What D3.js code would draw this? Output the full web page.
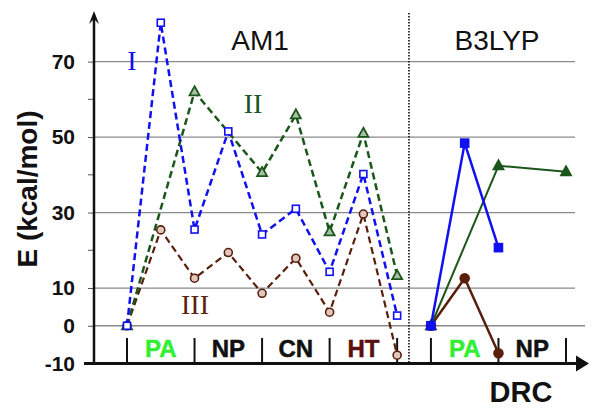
<!DOCTYPE html>
<html>
<head>
<meta charset="utf-8">
<script src="https://cdn.jsdelivr.net/npm/d3@7"></script>
<style>
  body { margin: 0; background: #fff; }
  svg { display: block; font-family: Arial, 'Liberation Sans', sans-serif; }
</style>
</head>
<body>
<div class="chart-container"></div>
<script>
// Data: x is the step index along the DRC path
const am1Steps = [0, 1, 2, 3, 4, 5, 6, 7, 8];
const am1I   = [0, 80.3, 25.5, 51.5, 24.2, 31.0, 14.3, 40.2, 2.7];
const am1II  = [0, null, 62.0, null, 40.6, 55.9, 24.9, 51.0, 13.3];
const am1III = [0, 25.4, 12.6, 19.4, 8.6, 17.9, 3.6, 29.6, -7.8];

const b3lypSteps = [9, 10, 11, 13];
const b3lypI   = [0, 48.4, 20.7, null];
const b3lypII  = [0, null, 42.4, 40.8];
const b3lypIII = [0, 12.6, -7.3, null];

const yTickLabels = [70, 50, 30, 10, 0, -10];
const yMinorTicks = [60, 40, 20];
const gridValues = [70, 50, 30, 10, 0];

const am1Cats = ['PA', 'NP', 'CN', 'HT'];
const am1CatPos = [1, 3, 5, 7];
const b3lypCats = ['PA', 'NP'];
const b3lypCatPos = [10, 12];
const catTicks = [0, 2, 4, 6, 8, 9, 11, 13];
const separatorAt = 8.35;

const blue = '#1010f0', green = '#1b571b', brown = '#5a1e0c';
const catColor = { PA: '#33ee33', HT: '#5a1010' };

const W = 600, H = 415;
const svg = d3.select('.chart-container').append('svg')
  .attr('width', W).attr('height', H);

// Scales
const x = d3.scaleLinear().domain([0, 13]).range([127, 566]);
const y = d3.scaleLinear().domain([-10, 70]).range([363.5, 61.6]);
const axisX = 94;

// Gridlines
svg.append('g').selectAll('line').data(gridValues).join('line')
  .attr('x1', axisX).attr('x2', d => d === 0 ? 585 : 575)
  .attr('y1', d => y(d)).attr('y2', d => y(d))
  .attr('stroke', '#8a8a8a').attr('stroke-width', 1.3);

// Separator
svg.append('line')
  .attr('x1', x(separatorAt)).attr('x2', x(separatorAt))
  .attr('y1', 13).attr('y2', y(-10))
  .attr('stroke', '#111').attr('stroke-width', 1.6)
  .attr('stroke-dasharray', '1.5,1.5');

// Y axis
const yAxis = d3.axisLeft(y).tickValues(yTickLabels).tickSize(6).tickPadding(13)
  .tickFormat(d => String(d));
const yAxisDraw = svg.append('g').attr('transform', `translate(${axisX},0)`).call(yAxis);
yAxisDraw.select('.domain').remove();
yAxisDraw.selectAll('.tick line').attr('stroke', '#555');
yAxisDraw.selectAll('text').attr('font-size', 21).attr('font-weight', 'bold')
  .attr('fill', '#111').attr('font-family', 'Arial, Liberation Sans, sans-serif');
svg.append('g').selectAll('line').data(yMinorTicks).join('line')
  .attr('x1', axisX - 6).attr('x2', axisX)
  .attr('y1', d => y(d)).attr('y2', d => y(d))
  .attr('stroke', '#555');

svg.append('line').attr('x1', axisX).attr('x2', axisX)
  .attr('y1', 18).attr('y2', y(-10) + 1.5)
  .attr('stroke', '#111').attr('stroke-width', 2.5);
svg.append('path').attr('d', `M${axisX - 5},24 L${axisX},11 L${axisX + 5},24 L${axisX},19 Z`)
  .attr('fill', '#111');

// X axis with arrow
svg.append('line').attr('x1', axisX - 10).attr('x2', 580)
  .attr('y1', y(-10)).attr('y2', y(-10))
  .attr('stroke', '#111').attr('stroke-width', 3);
svg.append('path').attr('d', `M576,${y(-10) - 8} L589,${y(-10)} L576,${y(-10) + 8} Z`)
  .attr('fill', '#111');

// Category ticks and labels
svg.append('g').selectAll('line').data(catTicks).join('line')
  .attr('x1', d => x(d)).attr('x2', d => x(d))
  .attr('y1', 338).attr('y2', y(-10))
  .attr('stroke', '#111').attr('stroke-width', 2);

const catLabels = am1Cats.map((c, i) => ({ c, p: am1CatPos[i] }))
  .concat(b3lypCats.map((c, i) => ({ c, p: b3lypCatPos[i] })));
svg.append('g').selectAll('text').data(catLabels).join('text')
  .attr('x', d => x(d.p)).attr('y', 357)
  .attr('text-anchor', 'middle').attr('font-size', 24).attr('font-weight', 'bold')
  .attr('fill', d => catColor[d.c] || '#111')
  .attr('stroke', d => catColor[d.c] || '#111').attr('stroke-width', 0.5)
  .text(d => d.c);

// Lines
const line = d3.line().x(d => x(d.s)).y(d => y(d.v));
function pts(steps, vals) {
  return steps.map((s, i) => ({ s, v: vals[i] })).filter(d => d.v !== null);
}

function drawSeries(steps, vals, color, opts) {
  const data = pts(steps, vals);
  svg.append('path').datum(data)
    .attr('d', line).attr('fill', 'none')
    .attr('stroke', color).attr('stroke-width', opts.width)
    .attr('stroke-dasharray', opts.dash || null);
  const fill = opts.filled ? color : '#fff';
  const g = svg.append('g');
  if (opts.marker === 'square') {
    const s = opts.filled ? 8 : 7;
    g.selectAll('rect').data(data).join('rect')
      .attr('x', d => x(d.s) - s / 2).attr('y', d => y(d.v) - s / 2)
      .attr('width', s).attr('height', s)
      .attr('fill', fill).attr('stroke', color).attr('stroke-width', 1.6);
  } else if (opts.marker === 'triangle') {
    g.selectAll('path').data(data).join('path')
      .attr('d', d => { const cx = x(d.s), cy = y(d.v); return `M${cx},${cy - 5.5} L${cx + 5},${cy + 3.5} L${cx - 5},${cy + 3.5} Z`; })
      .attr('fill', opts.filled ? color : '#a8c0a8').attr('stroke', color).attr('stroke-width', 1.8);
  } else {
    g.selectAll('circle').data(data).join('circle')
      .attr('cx', d => x(d.s)).attr('cy', d => y(d.v)).attr('r', opts.filled ? 4.5 : 4)
      .attr('fill', opts.filled ? color : '#e0c8bc').attr('stroke', color).attr('stroke-width', 1.6);
  }
}

drawSeries(am1Steps, am1III, brown, { width: 2.2, dash: '7,4', marker: 'circle' });
drawSeries(am1Steps, am1II, green, { width: 2.5, dash: '7,4', marker: 'triangle' });
drawSeries(am1Steps, am1I, blue, { width: 2.5, dash: '7,4', marker: 'square' });
drawSeries(b3lypSteps, b3lypIII, brown, { width: 2.5, marker: 'circle', filled: true });
drawSeries(b3lypSteps, b3lypII, green, { width: 2, marker: 'triangle', filled: true });
drawSeries(b3lypSteps, b3lypI, blue, { width: 2.5, marker: 'square', filled: true });

// Section titles
svg.append('text').attr('x', 260).attr('y', 50).attr('text-anchor', 'middle')
  .attr('font-size', 28).attr('fill', '#111').text('AM1');
svg.append('text').attr('x', 497).attr('y', 50).attr('text-anchor', 'middle')
  .attr('font-size', 28).attr('fill', '#111').text('B3LYP');

// Series labels
const serif = "'Liberation Serif', 'DejaVu Serif', serif";
svg.append('text').attr('x', 132).attr('y', 70).attr('text-anchor', 'middle')
  .attr('font-family', serif).attr('font-size', 28).attr('fill', blue).text('I');
svg.append('text').attr('x', 253).attr('y', 113).attr('text-anchor', 'middle')
  .attr('font-family', serif).attr('font-size', 28).attr('fill', green).text('II');
svg.append('text').attr('x', 195).attr('y', 314).attr('text-anchor', 'middle')
  .attr('font-family', serif).attr('font-size', 28).attr('fill', brown).text('III');

// Axis titles
svg.append('text').attr('transform', 'translate(37,189) rotate(-90)')
  .attr('text-anchor', 'middle').attr('font-size', 28).attr('font-weight', 'bold')
  .attr('fill', '#111').text('E (kcal/mol)');
svg.append('text').attr('x', 521).attr('y', 402).attr('text-anchor', 'middle')
  .attr('font-size', 29).attr('font-weight', 'bold').attr('fill', '#111').text('DRC');
</script>
</body>
</html>
